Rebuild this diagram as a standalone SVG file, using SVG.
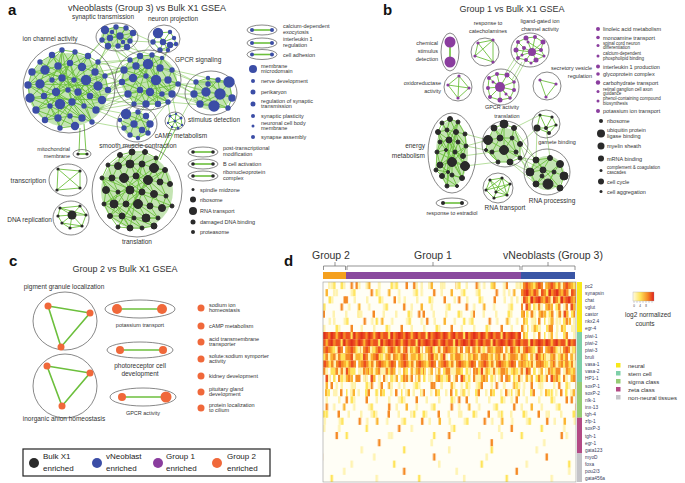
<svg xmlns="http://www.w3.org/2000/svg" width="685" height="483" viewBox="0 0 685 483">
<style>
text{font-family:"Liberation Sans",Arial,sans-serif;fill:#333}
.pl{font-weight:bold;font-size:15px;fill:#111}
.ti{font-size:9px}
.lb{font-size:6.5px}
.sm{font-size:5.5px}
.xs{font-size:4.5px}
.lg{font-size:8px;fill:#222}
.cl{fill:none;stroke:#555;stroke-width:0.7}
.e{fill:none;stroke:#6cbf3c;stroke-width:0.9}
.eb{fill:none;stroke:#7cc550;stroke-width:0.7;opacity:0.8}
.ec{fill:none;stroke:#6cbf3c;stroke-width:1.6}
.gf{fill:#7cc456;opacity:0.45}
.b{fill:#3b4da6}.k{fill:#2a2a2a}.p{fill:#8a3d9e}.o{fill:#f0683a}
.bb circle{stroke:#3b4da6;stroke-width:1.4}
.kb circle{stroke:#2a2a2a;stroke-width:1}
.L{fill:#fff3b0}.Y{fill:#ffe45a}.O1{fill:#fbb531}.O{fill:#f58a25}.R{fill:#ec5020}.RR{fill:#e0301c}.W{fill:#fffdf2}
.rl{font-size:4.8px;fill:#3a4060}
.cat{font-size:6px;fill:#333}
</style>
<defs>
<pattern id="pSp1" width="50" height="7.15" patternUnits="userSpaceOnUse"><rect class="L" x="5" width="2.5" height="7.15"/><rect class="Y" x="17.5" width="2.5" height="7.15"/><rect class="L" x="20" width="2.5" height="7.15"/><rect class="O" x="32.5" width="2.5" height="7.15"/><rect class="L" x="42.5" width="2.5" height="7.15"/></pattern>
<pattern id="pSp2" width="62.5" height="7.15" patternUnits="userSpaceOnUse"><rect class="O1" x="2.5" width="2.5" height="7.15"/><rect class="L" x="12.5" width="2.5" height="7.15"/><rect class="L" x="27.5" width="2.5" height="7.15"/><rect class="Y" x="30" width="2.5" height="7.15"/><rect class="O" x="47.5" width="2.5" height="7.15"/><rect class="L" x="55" width="2.5" height="7.15"/></pattern>
<pattern id="pVs" width="87.5" height="7.15" patternUnits="userSpaceOnUse"><rect class="L" x="10" width="2.5" height="7.15"/><rect class="Y" x="52.5" width="2.5" height="7.15"/></pattern>
<pattern id="pVs2" width="112.5" height="7.15" patternUnits="userSpaceOnUse"><rect class="O" x="22.5" width="2.5" height="7.15"/><rect class="L" x="75" width="2.5" height="7.15"/></pattern>
<pattern id="pDr" width="37.5" height="7.15" patternUnits="userSpaceOnUse"><rect class="R" width="37.5" height="7.15"/><rect class="RR" x="0" width="2.5" height="7.15"/><rect class="O" x="5" width="2.5" height="7.15"/><rect class="RR" x="7.5" width="2.5" height="7.15"/><rect class="O1" x="12.5" width="2.5" height="7.15"/><rect class="RR" x="17.5" width="2.5" height="7.15"/><rect class="O" x="20" width="2.5" height="7.15"/><rect class="Y" x="27.5" width="2.5" height="7.15"/><rect class="RR" x="30" width="2.5" height="7.15"/><rect class="O" x="32.5" width="2.5" height="7.15"/></pattern>
<pattern id="pDo" width="40" height="7.15" patternUnits="userSpaceOnUse"><rect class="O" width="40" height="7.15"/><rect class="R" x="2.5" width="2.5" height="7.15"/><rect class="O1" x="7.5" width="2.5" height="7.15"/><rect class="Y" x="10" width="2.5" height="7.15"/><rect class="R" x="15" width="2.5" height="7.15"/><rect class="W" x="20" width="2.5" height="7.15"/><rect class="O1" x="22.5" width="2.5" height="7.15"/><rect class="R" x="27.5" width="2.5" height="7.15"/><rect class="Y" x="32.5" width="2.5" height="7.15"/><rect class="L" x="37.5" width="2.5" height="7.15"/></pattern>
<pattern id="pMo" width="45" height="7.15" patternUnits="userSpaceOnUse"><rect class="O" x="0" width="2.5" height="7.15"/><rect class="O1" x="2.5" width="2.5" height="7.15"/><rect class="Y" x="7.5" width="2.5" height="7.15"/><rect class="O" x="10" width="2.5" height="7.15"/><rect class="L" x="15" width="2.5" height="7.15"/><rect class="O" x="17.5" width="2.5" height="7.15"/><rect class="R" x="22.5" width="2.5" height="7.15"/><rect class="O1" x="25" width="2.5" height="7.15"/><rect class="Y" x="30" width="2.5" height="7.15"/><rect class="O" x="35" width="2.5" height="7.15"/><rect class="L" x="37.5" width="2.5" height="7.15"/><rect class="O1" x="42.5" width="2.5" height="7.15"/></pattern>
<pattern id="pMy" width="55" height="7.15" patternUnits="userSpaceOnUse"><rect class="Y" x="0" width="2.5" height="7.15"/><rect class="L" x="5" width="2.5" height="7.15"/><rect class="O1" x="7.5" width="2.5" height="7.15"/><rect class="L" x="12.5" width="2.5" height="7.15"/><rect class="Y" x="20" width="2.5" height="7.15"/><rect class="O" x="22.5" width="2.5" height="7.15"/><rect class="L" x="30" width="2.5" height="7.15"/><rect class="O1" x="35" width="2.5" height="7.15"/><rect class="Y" x="37.5" width="2.5" height="7.15"/><rect class="L" x="45" width="2.5" height="7.15"/><rect class="O" x="50" width="2.5" height="7.15"/></pattern>
<pattern id="pVn" width="30" height="7.15" patternUnits="userSpaceOnUse"><rect class="O" width="30" height="7.15"/><rect class="R" x="2.5" width="2.5" height="7.15"/><rect class="RR" x="5" width="2.5" height="7.15"/><rect class="O1" x="10" width="2.5" height="7.15"/><rect class="R" x="12.5" width="2.5" height="7.15"/><rect class="L" x="17.5" width="2.5" height="7.15"/><rect class="R" x="20" width="2.5" height="7.15"/><rect class="Y" x="25" width="2.5" height="7.15"/><rect class="RR" x="27.5" width="2.5" height="7.15"/></pattern>
<linearGradient id="cbar" x1="0" x2="1" y1="0" y2="0"><stop offset="0" stop-color="#fffbe0"/><stop offset="0.35" stop-color="#ffe45a"/><stop offset="0.7" stop-color="#f58a25"/><stop offset="1" stop-color="#e0201c"/></linearGradient>
</defs>
<rect width="685" height="483" fill="#fff"/>

<!-- PANEL A -->
<text class="pl" x="8" y="15">a</text>
<text class="ti" x="147" y="11" text-anchor="middle">vNeoblasts (Group 3) vs Bulk X1 GSEA</text>

<g id="connectors">
<path class="eb" d="M98,62L130,60M105,76L124,70M108,90L122,82M102,100L128,94M96,110L134,104M98,86L133,78M95,72L136,66M86,80L124,70M90,96L122,82M84,106L128,94M108,90L133,78M105,76L122,82M98,62L124,70M88,56L102,40M98,62L108,46M95,72L110,38M108,46L130,60M118,46L140,56M127,47L152,55M130,41L148,64M110,38L124,70M118,46L136,66M102,40L130,60M160,50L152,55M168,50L162,58M153,42L140,56M170,45L160,68M133,33L153,42M130,41L153,42M178,84L194,94M172,94L200,104M172,70L196,82M168,80L206,92M168,102L214,106M178,84L208,84M172,70L208,78M162,94L194,94M138,112L146,104M146,116L158,104M126,114L134,104M150,124L168,102M134,124L146,104M120,120L96,110M124,128L92,122M126,114L84,106M170,116L168,102M176,114L172,94M181,118L194,94M88,56L116,27M98,62L126,28M105,76L148,64M108,90L156,80M102,100L146,104M98,86L146,76M86,80L136,66M90,96L140,90M96,110L150,92M105,76L140,56M108,90L124,70M82,67L130,60M102,100L122,82M96,110L128,94M178,84L220,94M172,94L214,106M160,68L196,82M168,80L194,94"/>
<path class="e" d="M172,127L154,168M176,128L160,160M80,128L79,152M84,124L86,152"/>
<path class="eb" d="M466,146L486,150M465,134L488,140M463,156L492,152M465,166L498,162M466,146L488,140M520,144L530,172M520,158L536,160M516,152L530,172M510,162L536,184M520,158L543,170M514,128L536,160M520,144L537,128M514,128L540,115M518,60L507,76M522,62L512,80M515,58L505,74M526,60L514,82M537,128L536,160M546,128L550,158M520,144L536,160M516,152L536,184M510,162L530,172"/>
</g>

<g id="ion-channel-activity">
<ellipse class="cl" cx="69" cy="88" rx="46" ry="45"/>
<ellipse class="gf" cx="68" cy="90" rx="40" ry="37"/>
<path class="e" d="M40,62L52,55L62,50L75,52L88,56L98,62M32,72L45,70L58,66L70,63L82,67L95,72L105,76M28,85L40,84L52,80L62,78L74,80L86,80L98,86L108,90M30,98L44,96L56,92L68,90L78,92L90,96L102,100M36,110L50,106L60,104L72,102L84,106L96,110M45,120L58,118L70,116L82,118L92,122M60,128L75,126M32,72L40,62L45,70L52,55L58,66L62,50L70,63L75,52L82,67L88,56L95,72L98,62L105,76M28,85L32,72L40,84L45,70L52,80L58,66L62,78L70,63L74,80L82,67L86,80L95,72L98,86L105,76L108,90M30,98L28,85L44,96L40,84L56,92L52,80L68,90L62,78L78,92L74,80L90,96L86,80L102,100L98,86M36,110L30,98L50,106L44,96L60,104L56,92L72,102L68,90L84,106L78,92L96,110L90,96M45,120L36,110L58,118L50,106L70,116L60,104L82,118L72,102L92,122L84,106M60,128L58,118L75,126L70,116L82,118M32,72L86,80L60,128L40,84L98,86L45,120L75,52L30,98L102,100L52,55L84,106L28,85L88,56L36,110L95,72L58,118L62,50L72,102L105,76L44,96L70,63L92,122M40,62L74,80L50,106M98,62L56,92L82,118M62,50L28,85M102,100L45,70"/>
<g class="b bb">
<circle cx="40" cy="62" r="2"/><circle cx="52" cy="55" r="2.5"/><circle cx="62" cy="50" r="2"/><circle cx="75" cy="52" r="2"/><circle cx="88" cy="56" r="2.5"/><circle cx="98" cy="62" r="2"/>
<circle cx="32" cy="72" r="3"/><circle cx="45" cy="70" r="4"/><circle cx="58" cy="66" r="3"/><circle cx="70" cy="63" r="2.5"/><circle cx="82" cy="67" r="3.5"/><circle cx="95" cy="72" r="3"/><circle cx="105" cy="76" r="2"/>
<circle cx="28" cy="85" r="3"/><circle cx="40" cy="84" r="4"/><circle cx="52" cy="80" r="2"/><circle cx="62" cy="78" r="3"/><circle cx="74" cy="80" r="2"/><circle cx="86" cy="80" r="4.5"/><circle cx="98" cy="86" r="4"/><circle cx="108" cy="90" r="2.5"/>
<circle cx="30" cy="98" r="4"/><circle cx="44" cy="96" r="2.5"/><circle cx="56" cy="92" r="3.5"/><circle cx="68" cy="90" r="2"/><circle cx="78" cy="92" r="3"/><circle cx="90" cy="96" r="2.5"/><circle cx="102" cy="100" r="3.5"/>
<circle cx="36" cy="110" r="3"/><circle cx="50" cy="106" r="2"/><circle cx="60" cy="104" r="4.5"/><circle cx="72" cy="102" r="3"/><circle cx="84" cy="106" r="2"/><circle cx="96" cy="110" r="3"/>
<circle cx="45" cy="120" r="2.5"/><circle cx="58" cy="118" r="3"/><circle cx="70" cy="116" r="2"/><circle cx="82" cy="118" r="3"/><circle cx="92" cy="122" r="2"/><circle cx="60" cy="128" r="2"/><circle cx="75" cy="126" r="3.5"/>
</g>
<text class="lb" x="50" y="41" text-anchor="middle">ion channel activity</text>
</g>

<g id="synaptic-transmission">
<ellipse class="cl" cx="117" cy="37" rx="21" ry="14"/>
<ellipse class="gf" cx="117" cy="37" rx="16" ry="10"/>
<path class="e" d="M105,30L116,27L126,28L133,33L130,41L127,47L118,46L108,46L102,40L105,30L110,38L120,36L130,41M116,27L112,32L110,38L108,46M126,28L120,36L123,42L118,46M133,33L123,42L127,47M102,40L120,36L126,28M105,30L130,41M112,32L127,47M116,27L118,46M110,38L133,33"/>
<g class="b bb"><circle cx="105" cy="30" r="3.5"/><circle cx="116" cy="27" r="2"/><circle cx="126" cy="28" r="2"/><circle cx="133" cy="33" r="2.5"/><circle cx="102" cy="40" r="2"/><circle cx="110" cy="38" r="2.5"/><circle cx="120" cy="36" r="3"/><circle cx="130" cy="41" r="2"/><circle cx="108" cy="46" r="2.5"/><circle cx="118" cy="46" r="2"/><circle cx="127" cy="47" r="2.5"/><circle cx="112" cy="32" r="1.5"/><circle cx="123" cy="42" r="1.5"/></g>
<text class="lb" x="103" y="19" text-anchor="middle">synaptic transmission</text>
</g>

<g id="neuron-projection">
<ellipse class="cl" cx="164" cy="39" rx="16" ry="14"/>
<path class="e" d="M158,33L170,32L174,38L176,44L170,45L168,50L160,50L153,42L158,33L163,42L170,45M170,32L163,42L160,50M174,38L163,42L153,42M158,33L168,50M176,44L160,50"/>
<g class="b bb"><circle cx="158" cy="33" r="4.5"/><circle cx="170" cy="32" r="1.5"/><circle cx="174" cy="38" r="1.5"/><circle cx="153" cy="42" r="2"/><circle cx="163" cy="42" r="2.5"/><circle cx="170" cy="45" r="2.5"/><circle cx="160" cy="50" r="2"/><circle cx="168" cy="50" r="1.5"/><circle cx="176" cy="44" r="1.5"/></g>
<text class="lb" x="173" y="21" text-anchor="middle">neuron projection</text>
</g>

<g id="gpcr-signaling">
<ellipse class="cl" cx="148" cy="80" rx="33" ry="30"/>
<ellipse class="gf" cx="149" cy="80" rx="28" ry="25"/>
<path class="e" d="M130,60L140,56L152,55L162,58M124,70L136,66L148,64L160,68L172,70M122,82L133,78L146,76L156,80L168,80L178,84M128,94L140,90L150,92L162,94L172,94M134,104L146,104L158,104L168,102M124,70L130,60L136,66L140,56L148,64L152,55L160,68L162,58L172,70M122,82L124,70L133,78L136,66L146,76L148,64L156,80L160,68L168,80L172,70L178,84M128,94L122,82L140,90L133,78L150,92L146,76L162,94L156,80L172,94L168,80M134,104L128,94L146,104L140,90L158,104L150,92L168,102L162,94M124,70L156,80L134,104L148,64L172,94L130,60L168,102L122,82L162,58L146,104L178,84L128,94L152,55L158,104"/>
<g class="b bb"><circle cx="130" cy="60" r="2"/><circle cx="140" cy="56" r="2.5"/><circle cx="152" cy="55" r="2"/><circle cx="162" cy="58" r="1.5"/><circle cx="124" cy="70" r="3"/><circle cx="136" cy="66" r="3"/><circle cx="148" cy="64" r="4.5"/><circle cx="160" cy="68" r="3"/><circle cx="172" cy="70" r="2"/><circle cx="122" cy="82" r="2.5"/><circle cx="133" cy="78" r="3.5"/><circle cx="146" cy="76" r="2"/><circle cx="156" cy="80" r="4.5"/><circle cx="168" cy="80" r="3"/><circle cx="178" cy="84" r="2"/><circle cx="128" cy="94" r="3"/><circle cx="140" cy="90" r="2.5"/><circle cx="150" cy="92" r="3.5"/><circle cx="162" cy="94" r="2"/><circle cx="172" cy="94" r="3"/><circle cx="134" cy="104" r="2"/><circle cx="146" cy="104" r="3"/><circle cx="158" cy="104" r="2.5"/><circle cx="168" cy="102" r="2"/></g>
<text class="lb" x="175" y="62" font-size="7">GPCR signaling</text>
</g>

<g id="stimulus-detection">
<ellipse class="cl" cx="211" cy="93" rx="26" ry="22"/>
<ellipse class="gf" cx="212" cy="94" rx="20" ry="16"/>
<path class="e" d="M196,82L208,78L218,80L229,82L232,98L228,108L214,106L200,104L194,94L196,82L206,92L220,94L232,98M208,78L208,84L206,92L200,104M218,80L220,94L214,106M229,82L220,94L228,108M194,94L206,92L214,106M196,82L229,82M208,84L232,98M194,94L228,108M208,78L220,94L200,104M218,80L206,92"/>
<g class="b bb"><circle cx="196" cy="82" r="2"/><circle cx="208" cy="78" r="1.5"/><circle cx="218" cy="80" r="2"/><circle cx="229" cy="82" r="5"/><circle cx="194" cy="94" r="3"/><circle cx="206" cy="92" r="4"/><circle cx="220" cy="94" r="5"/><circle cx="232" cy="98" r="3"/><circle cx="200" cy="104" r="3"/><circle cx="214" cy="106" r="5"/><circle cx="228" cy="108" r="2"/><circle cx="208" cy="84" r="2"/></g>
<text class="lb" x="188" y="122" font-size="7">stimulus detection</text>
</g>

<g id="smooth-muscle-contraction">
<ellipse class="cl" cx="137" cy="124" rx="20" ry="18"/>
<ellipse class="gf" cx="136" cy="125" rx="14" ry="12"/>
<path class="e" d="M126,114L138,112L146,116L150,124L148,133L138,138L130,135L124,128L120,120L126,114L134,124L142,130L148,133M138,112L134,124L130,135M146,116L134,124L124,128M150,124L142,130L138,138M126,114L150,124M120,120L142,130M138,112L148,133"/>
<g class="b bb"><circle cx="126" cy="114" r="4.5"/><circle cx="138" cy="112" r="2"/><circle cx="146" cy="116" r="2.5"/><circle cx="150" cy="124" r="3"/><circle cx="124" cy="128" r="2"/><circle cx="134" cy="124" r="3"/><circle cx="142" cy="130" r="2.5"/><circle cx="130" cy="135" r="2"/><circle cx="148" cy="133" r="2"/><circle cx="120" cy="120" r="1.5"/><circle cx="138" cy="138" r="1.5"/></g>
<text class="lb" x="138" y="148" text-anchor="middle">smooth muscle contraction</text>
</g>

<g id="camp-metabolism">
<ellipse class="cl" cx="175" cy="121" rx="10" ry="9"/>
<path class="e" d="M170,116L176,114L181,118L182,125L178,128L172,127L168,123L170,116L175,121L182,125M176,114L175,121L172,127M181,118L175,121L168,123M178,128L175,121"/>
<g class="b"><circle cx="170" cy="116" r="1.5"/><circle cx="176" cy="114" r="1.2"/><circle cx="181" cy="118" r="1.5"/><circle cx="168" cy="123" r="1.2"/><circle cx="175" cy="121" r="1.5"/><circle cx="182" cy="125" r="1.2"/><circle cx="172" cy="127" r="1.2"/><circle cx="178" cy="128" r="1.5"/></g>
<text class="lb" x="181" y="138" text-anchor="middle">cAMP metabolism</text>
</g>

<g id="mitochondrial-membrane">
<ellipse class="cl" cx="82" cy="154" rx="9" ry="4.5"/>
<path class="ec" d="M78,154L87,154" stroke-width="1"/>
<circle class="k" cx="78" cy="154" r="1.6"/><circle class="k" cx="87" cy="154" r="1.6"/>
<text class="sm" x="70" y="151" text-anchor="end">mitochondrial</text>
<text class="sm" x="70" y="158" text-anchor="end">membrane</text>
</g>

<g id="transcription">
<ellipse class="cl" cx="68" cy="180" rx="19" ry="16"/>
<path class="e" d="M58,169L80,171L80,188L57,190ZM58,169L80,188M80,171L57,190"/>
<g class="k"><circle cx="58" cy="169" r="1.6"/><circle cx="80" cy="171" r="1.6"/><circle cx="57" cy="190" r="1.6"/><circle cx="80" cy="188" r="1.6"/></g>
<text class="lb" x="46" y="183" text-anchor="end" font-size="7.5">transcription</text>
</g>

<g id="dna-replication">
<ellipse class="cl" cx="71" cy="218" rx="18" ry="17"/>
<path class="e" d="M72,215L60,208M72,215L80,206M72,215L86,215M72,215L62,223M72,215L70,228M72,215L82,226M72,215L58,216M60,208L80,206L86,215L82,226L70,228L62,223L58,216L60,208M62,223L82,226M60,208L86,215"/>
<g class="k"><circle cx="72" cy="215" r="4.5"/><circle cx="60" cy="208" r="1.6"/><circle cx="80" cy="206" r="1.6"/><circle cx="86" cy="215" r="1.6"/><circle cx="62" cy="223" r="1.6"/><circle cx="70" cy="228" r="1.6"/><circle cx="82" cy="226" r="1.6"/><circle cx="58" cy="216" r="1.6"/></g>
<text class="lb" x="52" y="222" text-anchor="end" font-size="7.5">DNA replication</text>
</g>

<g id="translation-a">
<ellipse class="cl" cx="137" cy="191" rx="45" ry="46"/>
<ellipse class="gf" cx="137" cy="191" rx="36" ry="38" opacity="0.3"/>
<path class="e" d="M120,155L132,152L145,152L156,158M108,165L118,166L130,164L142,164L154,168L165,170M102,178L112,178L124,178L136,176L148,180L160,182L170,184M106,190L118,192L130,190L142,192L154,194L166,196M104,204L114,204L126,204L138,204L150,206L162,208L172,206M110,216L122,216L134,218L146,218L158,218M118,227L130,228L142,228L154,226M108,165L120,155L118,166L132,152L130,164L145,152L142,164L156,158L154,168L165,170M102,178L108,165L112,178L118,166L124,178L130,164L136,176L142,164L148,180L154,168L160,182L165,170L170,184M106,190L102,178L118,192L112,178L130,190L124,178L142,192L136,176L154,194L148,180L166,196L160,182M104,204L106,190L114,204L118,192L126,204L130,190L138,204L142,192L150,206L154,194L162,208L166,196L172,206M110,216L104,204L122,216L114,204L134,218L126,204L146,218L138,204L158,218L150,206M118,227L110,216L130,228L122,216L142,228L134,218L154,226L146,218L158,218M120,155L148,180L118,227L154,168L104,204L165,170L110,216L142,164L130,228L102,178L172,206"/>
<g class="k kb">
<circle cx="120" cy="155" r="2.5"/><circle cx="132" cy="152" r="3"/><circle cx="145" cy="152" r="2.5"/><circle cx="156" cy="158" r="2"/>
<circle cx="108" cy="165" r="2"/><circle cx="118" cy="166" r="3.5"/><circle cx="130" cy="164" r="4"/><circle cx="142" cy="164" r="3"/><circle cx="154" cy="168" r="4.5"/><circle cx="165" cy="170" r="2.5"/>
<circle cx="102" cy="178" r="2"/><circle cx="112" cy="178" r="3"/><circle cx="124" cy="178" r="4.5"/><circle cx="136" cy="176" r="3"/><circle cx="148" cy="180" r="4.5"/><circle cx="160" cy="182" r="3"/><circle cx="170" cy="184" r="2.5"/>
<circle cx="106" cy="190" r="3.5"/><circle cx="118" cy="192" r="2"/><circle cx="130" cy="190" r="4"/><circle cx="142" cy="192" r="3"/><circle cx="154" cy="194" r="3.5"/><circle cx="166" cy="196" r="2"/>
<circle cx="104" cy="204" r="2"/><circle cx="114" cy="204" r="4"/><circle cx="126" cy="204" r="3"/><circle cx="138" cy="204" r="4.5"/><circle cx="150" cy="206" r="3"/><circle cx="162" cy="208" r="3.5"/><circle cx="172" cy="206" r="2"/>
<circle cx="110" cy="216" r="2.5"/><circle cx="122" cy="216" r="3"/><circle cx="134" cy="218" r="2"/><circle cx="146" cy="218" r="4"/><circle cx="158" cy="218" r="2"/>
<circle cx="118" cy="227" r="2"/><circle cx="130" cy="228" r="3"/><circle cx="142" cy="228" r="2"/><circle cx="154" cy="226" r="3"/>
</g>
<text class="lb" x="137" y="244" text-anchor="middle" font-size="7.5">translation</text>
</g>

<g id="legend-a">
<g id="calcium-dependent-exocytosis"><ellipse class="cl" cx="262" cy="30" rx="15" ry="5"/><path class="ec" d="M252,30H272" stroke-width="1.4"/><circle class="b" cx="252" cy="30" r="2"/><circle class="b" cx="272" cy="30" r="2"/><text class="sm" x="283" y="28">calcium-dependent</text><text class="sm" x="283" y="33.5">exocytosis</text></g>
<g id="interleukin-1-regulation"><ellipse class="cl" cx="262" cy="43" rx="15" ry="5"/><path class="ec" d="M252,43H272" stroke-width="1.4"/><circle class="b" cx="252" cy="43" r="2"/><circle class="b" cx="272" cy="43" r="2"/><text class="sm" x="283" y="41">interleukin 1</text><text class="sm" x="283" y="46.5">regulation</text></g>
<g id="cell-adhesion"><ellipse class="cl" cx="262" cy="54.5" rx="15" ry="5"/><path class="ec" d="M252,54.5H272" stroke-width="1.4"/><circle class="b" cx="252" cy="54.5" r="2"/><circle class="b" cx="272" cy="54.5" r="2"/><text class="sm" x="283" y="56.5">cell adhesion</text></g>
<circle class="b" cx="253" cy="69" r="4"/><text class="sm" x="261" y="67.5">membrane</text><text class="sm" x="261" y="73">microdomain</text>
<circle class="b" cx="253" cy="81" r="2"/><text class="sm" x="261" y="83">nerve development</text>
<circle class="b" cx="253" cy="92" r="2.5"/><text class="sm" x="261" y="94">perikaryon</text>
<circle class="b" cx="253" cy="104" r="2.5"/><text class="sm" x="261" y="102.5">regulation of synaptic</text><text class="sm" x="261" y="108">transmission</text>
<circle class="b" cx="253" cy="116" r="2"/><text class="sm" x="261" y="118">synaptic plasticity</text>
<circle class="b" cx="253" cy="126" r="1.5"/><text class="sm" x="261" y="124.5">neuronal cell body</text><text class="sm" x="261" y="130">membrane</text>
<circle class="b" cx="253" cy="137" r="2"/><text class="sm" x="261" y="139">synapse assembly</text>
<g id="post-transcriptional-modification"><ellipse class="cl" cx="203" cy="152" rx="15" ry="5"/><path class="ec" d="M193,152H213" stroke-width="1.4"/><circle class="k" cx="193" cy="152" r="1.8"/><circle class="k" cx="213" cy="152" r="1.8"/><text class="sm" x="223" y="150">post-transcriptional</text><text class="sm" x="223" y="155.5">modification</text></g>
<g id="b-cell-activation"><ellipse class="cl" cx="203" cy="164" rx="15" ry="5"/><path class="ec" d="M193,164H213" stroke-width="1.4"/><circle class="k" cx="193" cy="164" r="1.8"/><circle class="k" cx="213" cy="164" r="1.8"/><text class="sm" x="223" y="166">B cell activation</text></g>
<g id="ribonucleoprotein-complex"><ellipse class="cl" cx="203" cy="176" rx="15" ry="5"/><path class="ec" d="M193,176H213" stroke-width="1.4"/><circle class="k" cx="193" cy="176" r="1.8"/><circle class="k" cx="213" cy="176" r="1.8"/><text class="sm" x="223" y="174">ribonucleoprotein</text><text class="sm" x="223" y="179.5">complex</text></g>
<circle class="k" cx="193" cy="189.5" r="1.5"/><text class="sm" x="200" y="191.5">spindle midzone</text>
<circle class="k" cx="193" cy="199.5" r="3"/><text class="sm" x="200" y="201.5">ribosome</text>
<circle class="k" cx="193" cy="211" r="4"/><text class="sm" x="200" y="213">RNA transport</text>
<circle class="k" cx="193" cy="222" r="2.5"/><text class="sm" x="200" y="224">damaged DNA binding</text>
<circle class="k" cx="193" cy="232" r="2"/><text class="sm" x="200" y="234">proteasome</text>
</g>

<!-- PANEL B -->
<text class="pl" x="383" y="15">b</text>
<text class="ti" x="512" y="12" text-anchor="middle">Group 1 vs Bulk X1 GSEA</text>

<g id="chemical-stimulus-detection">
<ellipse class="cl" cx="450" cy="52" rx="9" ry="19"/>
<path class="ec" d="M450,42V62" stroke-width="1"/>
<circle class="p" cx="450" cy="42" r="5.5"/><circle class="p" cx="450" cy="62" r="5.5"/>
<text class="sm" x="438" y="45" text-anchor="end">chemical</text><text class="sm" x="438" y="53" text-anchor="end">stimulus</text><text class="sm" x="438" y="61" text-anchor="end">detection</text>
</g>
<g id="response-to-catecholamines">
<circle class="cl" cx="485" cy="52" r="14"/>
<path class="e" d="M478,43L493,40L493,62L475,56ZM478,43L493,62M493,40L475,56"/>
<g class="p"><circle cx="478" cy="43" r="1.6"/><circle cx="493" cy="40" r="1.6"/><circle cx="475" cy="56" r="1.6"/><circle cx="493" cy="62" r="1.6"/></g>
<text class="sm" x="488" y="25" text-anchor="middle">response to</text><text class="sm" x="488" y="33" text-anchor="middle">catecholamines</text>
</g>
<g id="ligand-gated-ion-channel-activity">
<ellipse class="cl" cx="530" cy="50" rx="19" ry="17"/>
<path class="e" d="M518,42L526,38L535,37L543,42L541,50L544,56L536,60L531,63L526,60L518,58L516,50L518,42L524,48L532,52L541,50M526,38L528,42L532,52L536,60M535,37L532,52L522,55L518,58M543,42L532,52L526,60M516,50L532,52L544,56M524,48L522,55M528,42L541,50"/>
<g class="p"><circle cx="518" cy="42" r="2"/><circle cx="526" cy="38" r="2.5"/><circle cx="535" cy="37" r="2"/><circle cx="543" cy="42" r="2.5"/><circle cx="516" cy="50" r="2.5"/><circle cx="524" cy="48" r="2"/><circle cx="532" cy="52" r="4"/><circle cx="541" cy="50" r="2"/><circle cx="518" cy="58" r="2"/><circle cx="526" cy="60" r="2"/><circle cx="536" cy="60" r="2.5"/><circle cx="544" cy="56" r="1.5"/><circle cx="528" cy="42" r="1.5"/><circle cx="522" cy="55" r="1.5"/><circle cx="531" cy="63" r="1.5"/></g>
<text class="sm" x="540" y="23" text-anchor="middle">ligand-gated ion</text><text class="sm" x="540" y="31" text-anchor="middle">channel activity</text>
</g>
<g id="oxidoreductase-activity">
<circle class="cl" cx="458" cy="87" r="14"/>
<path class="e" d="M448,85L459,76L469,88L458,98ZM448,85L469,88M459,76L458,98"/>
<g class="p"><circle cx="448" cy="85" r="1.6"/><circle cx="459" cy="76" r="1.6"/><circle cx="469" cy="88" r="1.6"/><circle cx="458" cy="98" r="1.6"/></g>
<text class="sm" x="441" y="85" text-anchor="end">oxidoreductase</text><text class="sm" x="441" y="93" text-anchor="end">activity</text>
</g>
<g id="gpcr-activity-b">
<circle class="cl" cx="501" cy="87" r="18"/>
<path class="e" d="M500,87L489,78M500,87L497,74M500,87L507,75M500,87L514,82M500,87L488,88M500,87L514,90M500,87L490,97M500,87L500,100M500,87L510,98M500,87L493,82M500,87L506,94M489,78L497,74L507,75L514,82L514,90L510,98L500,100L490,97L488,88L489,78"/>
<g class="p"><circle cx="500" cy="87" r="5"/><circle cx="489" cy="78" r="2"/><circle cx="497" cy="74" r="2"/><circle cx="507" cy="75" r="2.5"/><circle cx="514" cy="82" r="1.8"/><circle cx="488" cy="88" r="2"/><circle cx="514" cy="90" r="2"/><circle cx="490" cy="97" r="2"/><circle cx="500" cy="100" r="2.5"/><circle cx="510" cy="98" r="1.8"/><circle cx="493" cy="82" r="1.5"/><circle cx="506" cy="94" r="1.5"/></g>
<text class="sm" x="502" y="109" text-anchor="middle">GPCR activity</text>
</g>
<g id="secretory-vesicle-regulation">
<circle class="cl" cx="547" cy="86" r="14"/>
<path class="e" d="M540,80L556,84L546,97Z"/>
<g class="p"><circle cx="540" cy="80" r="1.6"/><circle cx="556" cy="84" r="1.6"/><circle cx="546" cy="97" r="1.6"/></g>
<text class="sm" x="592" y="70" text-anchor="end">secretory vesicle</text><text class="sm" x="592" y="77.5" text-anchor="end">regulation</text>
</g>
<g id="translation-b">
<circle class="cl" cx="505" cy="144" r="23"/>
<circle class="gf" cx="504" cy="145" r="17"/>
<path class="e" d="M494,128L504,124L514,128L520,144L520,158L510,162L498,162L486,150L488,140L494,128L500,138L512,138L520,144M504,124L500,138L492,152L498,162M514,128L512,138L504,150L510,162M488,140L500,138M492,152L504,150L516,152L520,158M512,138L516,152M494,128L516,152M488,140L520,158M504,124L504,150M486,150L492,152"/>
<g class="k kb"><circle cx="494" cy="128" r="3"/><circle cx="504" cy="124" r="4"/><circle cx="514" cy="128" r="2.5"/><circle cx="488" cy="140" r="4.5"/><circle cx="500" cy="138" r="3"/><circle cx="512" cy="138" r="2"/><circle cx="520" cy="144" r="2.5"/><circle cx="492" cy="152" r="2"/><circle cx="504" cy="150" r="4.5"/><circle cx="516" cy="152" r="2"/><circle cx="498" cy="162" r="2"/><circle cx="510" cy="162" r="3"/><circle cx="520" cy="158" r="2"/><circle cx="486" cy="150" r="1.5"/></g>
<text class="sm" x="507" y="118" text-anchor="middle">translation</text>
</g>
<g id="energy-metabolism">
<ellipse class="cl" cx="452" cy="153" rx="24" ry="40"/>
<ellipse class="gf" cx="452" cy="153" rx="16" ry="33"/>
<path class="e" d="M442,123L450,119L458,122M438,132L447,130L456,132L465,134M440,142L449,140L458,142L466,146M437,152L446,150L455,152L463,156M436,170L440,165L452,162L465,166M442,176L448,172L452,175L462,178M447,186L457,186M438,132L442,123L447,130L450,119L456,132L458,122L465,134M440,142L438,132L449,140L447,130L458,142L456,132L466,146L465,134M437,152L440,142L446,150L449,140L455,152L458,142L463,156L466,146M436,170L437,152L440,165L446,150L452,162L455,152L465,166L463,156M442,176L436,170L448,172L440,165L452,175L452,162L462,178L465,166M447,186L442,176L457,186L452,175L462,178M442,123L465,166L437,152L458,122L440,165L466,146L442,176L456,132L447,186L449,140L462,178L438,132"/>
<g class="k kb"><circle cx="442" cy="123" r="2"/><circle cx="450" cy="119" r="2.5"/><circle cx="458" cy="122" r="2"/><circle cx="438" cy="132" r="2.5"/><circle cx="447" cy="130" r="2"/><circle cx="456" cy="132" r="2.5"/><circle cx="465" cy="134" r="2"/><circle cx="440" cy="142" r="2"/><circle cx="449" cy="140" r="3"/><circle cx="458" cy="142" r="2"/><circle cx="466" cy="146" r="2"/><circle cx="437" cy="152" r="2"/><circle cx="446" cy="150" r="1.5"/><circle cx="455" cy="152" r="2"/><circle cx="463" cy="156" r="2.5"/><circle cx="440" cy="165" r="3"/><circle cx="452" cy="162" r="4.5"/><circle cx="465" cy="166" r="4.5"/><circle cx="442" cy="176" r="2.5"/><circle cx="452" cy="175" r="2"/><circle cx="462" cy="178" r="2.5"/><circle cx="447" cy="186" r="2"/><circle cx="457" cy="186" r="1.5"/><circle cx="436" cy="170" r="2"/><circle cx="448" cy="172" r="1.5"/></g>
<text class="lb" x="425" y="148" text-anchor="end" font-size="7">energy</text><text class="lb" x="425" y="158" text-anchor="end" font-size="7">metabolism</text>
</g>
<g id="gamete-binding">
<circle class="cl" cx="546" cy="124" r="14"/>
<path class="e" d="M540,115L552,117L556,125L549,133L537,128L540,115L546,128L556,125M552,117L546,128L549,133M537,128L546,128"/>
<g class="k"><circle cx="540" cy="115" r="1.6"/><circle cx="552" cy="117" r="1.6"/><circle cx="537" cy="128" r="3.5"/><circle cx="546" cy="128" r="2"/><circle cx="556" cy="125" r="1.6"/><circle cx="549" cy="133" r="2"/></g>
<text class="sm" x="557" y="143.5" text-anchor="middle">gamete binding</text>
</g>
<g id="rna-processing">
<circle class="cl" cx="547" cy="172" r="23"/>
<circle class="gf" cx="547" cy="173" r="17"/>
<path class="e" d="M536,160L550,158L560,164L564,176L560,188L548,184L536,184L530,172L536,160L543,170L554,172L564,176M550,158L543,170L542,176L536,184M560,164L554,172L548,184M530,172L543,170M542,176L548,184L554,172M536,160L560,188M550,158L530,172M560,164L536,184"/>
<g class="k kb"><circle cx="536" cy="160" r="3"/><circle cx="550" cy="158" r="2.5"/><circle cx="560" cy="164" r="3.5"/><circle cx="530" cy="172" r="4"/><circle cx="543" cy="170" r="3"/><circle cx="554" cy="172" r="2"/><circle cx="564" cy="176" r="4"/><circle cx="536" cy="184" r="3"/><circle cx="548" cy="184" r="5"/><circle cx="560" cy="188" r="3"/><circle cx="542" cy="176" r="2"/></g>
<text class="lb" x="552" y="203" text-anchor="middle" font-size="7">RNA processing</text>
</g>
<g id="rna-transport">
<circle class="cl" cx="498" cy="188" r="15"/>
<path class="e" d="M490,180L502,178L510,184L507,195L494,198L486,190L490,180L496,192L510,184M502,178L496,192L494,198M486,190L510,184M490,180L507,195M502,178L486,190M496,192L507,195M502,178L507,195"/>
<g class="k"><circle cx="490" cy="180" r="1.6"/><circle cx="502" cy="178" r="1.6"/><circle cx="510" cy="184" r="1.6"/><circle cx="486" cy="190" r="1.6"/><circle cx="496" cy="192" r="1.6"/><circle cx="507" cy="195" r="1.6"/><circle cx="494" cy="198" r="1.6"/></g>
<text class="lb" x="505" y="210" text-anchor="middle">RNA transport</text>
</g>
<g id="response-to-estradiol">
<ellipse class="cl" cx="452" cy="203" rx="16" ry="5"/>
<path class="ec" d="M443,203H462" stroke-width="1"/>
<circle class="k" cx="443" cy="203" r="2"/><circle class="k" cx="462" cy="203" r="2"/>
<text class="sm" x="452" y="215" text-anchor="middle">response to estradiol</text>
</g>
<g id="legend-b">
<g class="p"><circle cx="598" cy="29" r="2"/><circle cx="598" cy="37.5" r="1.8"/><circle cx="598" cy="45.5" r="1.5"/><circle cx="598" cy="56" r="1.5"/><circle cx="598" cy="66.5" r="2"/><circle cx="598" cy="74" r="1.8"/><circle cx="598" cy="82.5" r="2.2"/><circle cx="598" cy="91.5" r="1.5"/><circle cx="598" cy="101" r="1.5"/><circle cx="598" cy="111" r="2"/></g>
<text class="sm" x="603" y="31">linoleic acid metabolism</text>
<text class="sm" x="603" y="39.5">monoamine transport</text>
<text class="xs" x="603" y="44.5">spinal cord neuron</text><text class="xs" x="603" y="49">differentiation</text>
<text class="xs" x="603" y="55">calcium-dependent</text><text class="xs" x="603" y="59.5">phospholipid binding</text>
<text class="sm" x="603" y="68.5">interleukin 1 production</text>
<text class="sm" x="603" y="76">glycoprotein complex</text>
<text class="sm" x="603" y="84.5">carbohydrate transport</text>
<text class="xs" x="603" y="90.5">retinal ganglion cell axon</text><text class="xs" x="603" y="95">guidance</text>
<text class="xs" x="603" y="100">phenol-containing compound</text><text class="xs" x="603" y="104.5">biosynthesis</text>
<text class="sm" x="603" y="113">potassium ion transport</text>
<g class="k"><circle cx="601" cy="121" r="2"/><circle cx="601" cy="133.5" r="4"/><circle cx="601" cy="146" r="3.5"/><circle cx="601" cy="158.5" r="3"/><circle cx="601" cy="170.5" r="1.5"/><circle cx="601" cy="181.5" r="3"/><circle cx="601" cy="191.5" r="1.5"/></g>
<text class="sm" x="607" y="123">ribosome</text>
<text class="sm" x="607" y="132">ubiquitin protein</text><text class="sm" x="607" y="137.5">ligase binding</text>
<text class="sm" x="607" y="148">myelin sheath</text>
<text class="sm" x="607" y="160.5">mRNA binding</text>
<text class="xs" x="607" y="169">complement &amp; coagulation</text><text class="xs" x="607" y="174">cascades</text>
<text class="sm" x="607" y="183.5">cell cycle</text>
<text class="sm" x="607" y="193.5">cell aggregation</text>
</g>

<!-- PANEL C -->
<text class="pl" x="9" y="266">c</text>
<text class="ti" x="125" y="272" text-anchor="middle">Group 2 vs Bulk X1 GSEA</text>
<g id="pigment-granule-localization">
<ellipse class="cl" cx="65" cy="321" rx="32" ry="29"/>
<path class="ec" d="M48,306L90,313L61,347Z"/>
<circle class="o" cx="48" cy="306" r="3.5"/><circle class="o" cx="90" cy="313" r="3.5"/><circle class="o" cx="61" cy="347" r="3.5"/>
<text class="lb" x="64" y="289" text-anchor="middle">pigment granule localization</text>
</g>
<g id="inorganic-anion-homeostasis">
<ellipse class="cl" cx="65" cy="386" rx="32" ry="32"/>
<path class="ec" d="M47,366L90,373L62,406Z"/>
<circle class="o" cx="47" cy="366" r="3.5"/><circle class="o" cx="90" cy="373" r="3.5"/><circle class="o" cx="62" cy="406" r="3.5"/>
<text class="lb" x="64" y="421" text-anchor="middle">inorganic anion homeostasis</text>
</g>
<g id="potassium-transport">
<ellipse class="cl" cx="140" cy="309" rx="35" ry="9"/>
<path class="ec" d="M117,309H162"/>
<circle class="o" cx="117" cy="309" r="5"/><circle class="o" cx="162" cy="309" r="5"/>
<text class="sm" x="140" y="327" text-anchor="middle">potassium transport</text>
</g>
<g id="photoreceptor-cell-development">
<ellipse class="cl" cx="140" cy="350" rx="33" ry="8"/>
<path class="ec" d="M120,350H163"/>
<circle class="o" cx="120" cy="350" r="4"/><circle class="o" cx="163" cy="350" r="4"/>
<text class="lb" x="140" y="368" text-anchor="middle">photoreceptor cell</text><text class="lb" x="140" y="376" text-anchor="middle">development</text>
</g>
<g id="gpcr-activity-c">
<ellipse class="cl" cx="143" cy="397" rx="33" ry="9"/>
<path class="ec" d="M122,397H166"/>
<circle class="o" cx="122" cy="397" r="4"/><circle class="o" cx="166" cy="397" r="5.5"/>
<text class="sm" x="143" y="415" text-anchor="middle">GPCR activity</text>
</g>
<g id="legend-c">
<g class="o"><circle cx="201" cy="308" r="3.5"/><circle cx="201" cy="326" r="3.5"/><circle cx="201" cy="342" r="3.5"/><circle cx="201" cy="359" r="3.5"/><circle cx="201" cy="376" r="3.5"/><circle cx="201" cy="392" r="3.5"/><circle cx="201" cy="408" r="3.5"/></g>
<text class="sm" x="209" y="307">sodium ion</text><text class="sm" x="209" y="312">homeostasis</text>
<text class="sm" x="209" y="328">cAMP metabolism</text>
<text class="sm" x="209" y="341">acid transmembrane</text><text class="sm" x="209" y="346">transporter</text>
<text class="sm" x="209" y="358">solute:sodium symporter</text><text class="sm" x="209" y="363">activity</text>
<text class="sm" x="209" y="378">kidney development</text>
<text class="sm" x="209" y="391">pituitary gland</text><text class="sm" x="209" y="396">development</text>
<text class="sm" x="209" y="407">protein localization</text><text class="sm" x="209" y="412">to cilium</text>
</g>

<g id="legend-enrichment">
<rect x="23" y="449" width="247" height="27" fill="none" stroke="#222" stroke-width="1.2"/>
<circle class="k" cx="34" cy="463" r="5"/><text class="lg" x="43" y="459">Bulk X1</text><text class="lg" x="43" y="471">enriched</text>
<circle class="b" cx="97" cy="463" r="5"/><text class="lg" x="106" y="459">vNeoblast</text><text class="lg" x="106" y="471">enriched</text>
<circle class="p" cx="158" cy="463" r="5"/><text class="lg" x="166" y="459">Group 1</text><text class="lg" x="166" y="471">enriched</text>
<circle class="o" cx="217" cy="463" r="5"/><text class="lg" x="227" y="459">Group 2</text><text class="lg" x="227" y="471">enriched</text>
</g>

<!-- PANEL D -->
<text class="pl" x="284" y="266">d</text>
<g id="group-header">
<text x="331" y="259" font-size="10.5" text-anchor="middle">Group 2</text>
<text x="433" y="259" font-size="10.5" text-anchor="middle">Group 1</text>
<text x="553" y="259" font-size="10.5" text-anchor="middle">vNeoblasts (Group 3)</text>
<path d="M323.5,270V266H345.5V270M347,270V266H520V270M522,270V266H575V270M335,266V262M433,266V262M548,266V262" fill="none" stroke="#666" stroke-width="0.7"/>
<rect x="323" y="272" width="23" height="7" fill="#f5a01e"/>
<rect x="346" y="272" width="175" height="7" fill="#8a4a9e"/>
<rect x="521" y="272" width="54" height="7" fill="#3a55a5"/>
</g>
<g id="heatmap">
<rect x="323" y="282" width="253" height="200" fill="#fffef6"/>
<g transform="translate(323,282)"><rect width="253" height="7.15" fill="url(#pSp1)"/><g transform="translate(-20,0)"><rect x="20" width="253" height="7.15" fill="url(#pSp2)"/></g><rect x="198" width="55" height="7.15" fill="url(#pDo)"/></g>
<g transform="translate(323,289.14)"><rect width="253" height="7.15" fill="url(#pSp2)"/><rect width="253" height="7.15" fill="url(#pVs)"/><g transform="translate(-12,0)"><rect x="210" width="55" height="7.15" fill="url(#pVn)"/></g></g>
<g transform="translate(323,296.29)"><g transform="translate(-12,0)"><rect x="12" width="253" height="7.15" fill="url(#pSp1)"/></g><rect width="253" height="7.15" fill="url(#pVs2)"/><rect x="198" width="55" height="7.15" fill="url(#pVn)"/></g>
<g transform="translate(323,303.43)"><g transform="translate(-30,0)"><rect x="30" width="253" height="7.15" fill="url(#pSp2)"/></g><rect x="198" width="55" height="7.15" fill="url(#pMo)"/></g>
<g transform="translate(323,310.57)"><g transform="translate(-33,0)"><rect x="33" width="253" height="7.15" fill="url(#pSp1)"/></g><g transform="translate(-40,0)"><rect x="40" width="253" height="7.15" fill="url(#pVs2)"/></g><g transform="translate(-7,0)"><rect x="205" width="55" height="7.15" fill="url(#pMo)"/></g></g>
<g transform="translate(323,317.71)"><rect width="253" height="7.15" fill="url(#pVs)"/><g transform="translate(-7,0)"><rect x="7" width="253" height="7.15" fill="url(#pSp2)"/></g><rect x="198" width="55" height="7.15" fill="url(#pMy)"/></g>
<g transform="translate(323,324.86)"><g transform="translate(-5,0)"><rect x="5" width="253" height="7.15" fill="url(#pSp1)"/></g><g transform="translate(-17,0)"><rect x="215" width="55" height="7.15" fill="url(#pMy)"/></g></g>
<g transform="translate(323,332)"><rect width="198" height="7.15" fill="url(#pDr)"/><rect x="198" width="55" height="7.15" fill="url(#pMy)"/></g>
<g transform="translate(323,339.14)"><g transform="translate(-10,0)"><rect x="10" width="253" height="7.15" fill="url(#pDr)"/></g></g>
<g transform="translate(323,346.29)"><rect width="253" height="7.15" fill="url(#pDo)"/><g transform="translate(-8,0)"><rect x="8" width="253" height="7.15" fill="url(#pSp1)"/></g></g>
<g transform="translate(323,353.43)"><g transform="translate(-15,0)"><rect x="15" width="253" height="7.15" fill="url(#pDo)"/></g><rect width="253" height="7.15" fill="url(#pMy)"/></g>
<g transform="translate(323,360.57)"><g transform="translate(-27,0)"><rect x="27" width="253" height="7.15" fill="url(#pDo)"/></g><rect x="198" width="55" height="7.15" fill="url(#pMy)"/></g>
<g transform="translate(323,367.71)"><rect width="253" height="7.15" fill="url(#pMo)"/><g transform="translate(-10,0)"><rect x="10" width="253" height="7.15" fill="url(#pMy)"/></g></g>
<g transform="translate(323,374.86)"><g transform="translate(-20,0)"><rect x="20" width="253" height="7.15" fill="url(#pMo)"/></g><rect width="253" height="7.15" fill="url(#pSp1)"/></g>
<g transform="translate(323,382)"><rect width="253" height="7.15" fill="url(#pSp2)"/><g transform="translate(-25,0)"><rect x="25" width="253" height="7.15" fill="url(#pSp1)"/></g></g>
<g transform="translate(323,389.14)"><g transform="translate(-33,0)"><rect x="33" width="253" height="7.15" fill="url(#pMy)"/></g><rect width="253" height="7.15" fill="url(#pVs)"/></g>
<g transform="translate(323,396.29)"><g transform="translate(-40,0)"><rect x="40" width="253" height="7.15" fill="url(#pSp1)"/></g><rect width="253" height="7.15" fill="url(#pVs2)"/></g>
<g transform="translate(323,403.43)"><g transform="translate(-45,0)"><rect x="45" width="253" height="7.15" fill="url(#pSp2)"/></g></g>
<g transform="translate(323,410.57)"><g transform="translate(-18,0)"><rect x="18" width="253" height="7.15" fill="url(#pSp1)"/></g><g transform="translate(-50,0)"><rect x="50" width="253" height="7.15" fill="url(#pVs)"/></g></g>
<g transform="translate(323,417.71)"><g transform="translate(-12,0)"><rect x="12" width="253" height="7.15" fill="url(#pSp2)"/></g></g>
<g transform="translate(323,424.86)"><g transform="translate(-10,0)"><rect x="10" width="253" height="7.15" fill="url(#pVs)"/></g><g transform="translate(-60,0)"><rect x="60" width="253" height="7.15" fill="url(#pVs2)"/></g></g>
<g transform="translate(323,432)"><g transform="translate(-30,0)"><rect x="30" width="253" height="7.15" fill="url(#pVs)"/></g><g transform="translate(-10,0)"><rect x="10" width="253" height="7.15" fill="url(#pVs2)"/></g></g>
<g transform="translate(323,439.14)"><g transform="translate(-80,0)"><rect x="80" width="253" height="7.15" fill="url(#pVs2)"/></g></g>
<g transform="translate(323,446.29)"><g transform="translate(-60,0)"><rect x="60" width="253" height="7.15" fill="url(#pVs)"/></g></g>
<g transform="translate(323,453.43)"><g transform="translate(-25,0)"><rect x="25" width="253" height="7.15" fill="url(#pVs2)"/></g></g>
<g transform="translate(323,460.57)"><g transform="translate(-70,0)"><rect x="70" width="253" height="7.15" fill="url(#pVs)"/></g></g>
<g transform="translate(323,467.71)"><g transform="translate(-55,0)"><rect x="55" width="253" height="7.15" fill="url(#pVs2)"/></g></g>
<g transform="translate(323,474.86)"><g transform="translate(-45,0)"><rect x="45" width="253" height="7.15" fill="url(#pVs)"/></g></g>
<rect x="323" y="282" width="253" height="200" fill="none" stroke="#999" stroke-width="0.6"/>
</g>
<g id="row-categories">
<rect x="577" y="282" width="5" height="50" fill="#f7e81a"/>
<rect x="577" y="332" width="5" height="50" fill="#7ecfa8"/>
<rect x="577" y="382" width="5" height="35.7" fill="#96cc74"/>
<rect x="577" y="417.7" width="5" height="35.7" fill="#b34a85"/>
<rect x="577" y="453.4" width="5" height="28.6" fill="#c4c4c8"/>
</g>
<g id="row-labels">
<text class="rl" x="585" y="287.5">pc2</text>
<text class="rl" x="585" y="294.6">synapsin</text>
<text class="rl" x="585" y="301.8">chat</text>
<text class="rl" x="585" y="308.9">vglut</text>
<text class="rl" x="585" y="316.1">castor</text>
<text class="rl" x="585" y="323.2">nkx2.4</text>
<text class="rl" x="585" y="330.4">egr-4</text>
<text class="rl" x="585" y="337.5">piwi-1</text>
<text class="rl" x="585" y="344.6">piwi-2</text>
<text class="rl" x="585" y="351.8">piwi-3</text>
<text class="rl" x="585" y="358.9">bruli</text>
<text class="rl" x="585" y="366.1">vasa-1</text>
<text class="rl" x="585" y="373.2">vasa-2</text>
<text class="rl" x="585" y="380.4">HP1-1</text>
<text class="rl" x="585" y="387.5">soxP-1</text>
<text class="rl" x="585" y="394.6">soxP-2</text>
<text class="rl" x="585" y="401.8">nlk-1</text>
<text class="rl" x="585" y="408.9">inx-13</text>
<text class="rl" x="585" y="416.1">tgh-4</text>
<text class="rl" x="585" y="423.2">zfp-1</text>
<text class="rl" x="585" y="430.4">soxP-3</text>
<text class="rl" x="585" y="437.5">tgh-1</text>
<text class="rl" x="585" y="444.6">egr-1</text>
<text class="rl" x="585" y="451.8">gata123</text>
<text class="rl" x="585" y="458.9">myoD</text>
<text class="rl" x="585" y="466.1">foxa</text>
<text class="rl" x="585" y="473.2">pou2/3</text>
<text class="rl" x="585" y="480.4">gata456a</text>
</g>
<g id="heatmap-legend">
<rect x="633" y="292" width="21" height="9" fill="url(#cbar)" stroke="#999" stroke-width="0.3"/>
<path d="M634,301V303M637,301V303M640,301V303M643,301V303M646,301V303M649,301V303M652,301V303" stroke="#666" stroke-width="0.3"/>
<text x="634" y="307" font-size="3" text-anchor="middle">0</text><text x="640" y="307" font-size="3" text-anchor="middle">4</text><text x="646" y="307" font-size="3" text-anchor="middle">8</text>
<text x="648" y="317" font-size="6.5" text-anchor="middle">log2 normalized</text>
<text x="645" y="326" font-size="6.5" text-anchor="middle">counts</text>
<rect x="616" y="363" width="4.5" height="4.5" fill="#f7e81a"/><text class="cat" x="628" y="368">neural</text>
<rect x="616" y="371" width="4.5" height="4.5" fill="#7ecfa8"/><text class="cat" x="628" y="376">stem cell</text>
<rect x="616" y="379" width="4.5" height="4.5" fill="#96cc74"/><text class="cat" x="628" y="384">sigma class</text>
<rect x="616" y="387" width="4.5" height="4.5" fill="#b34a85"/><text class="cat" x="628" y="392">zeta class</text>
<rect x="616" y="395" width="4.5" height="4.5" fill="#c4c4c8"/><text class="cat" x="628" y="400">non-neural tissues</text>
</g>
</svg>
